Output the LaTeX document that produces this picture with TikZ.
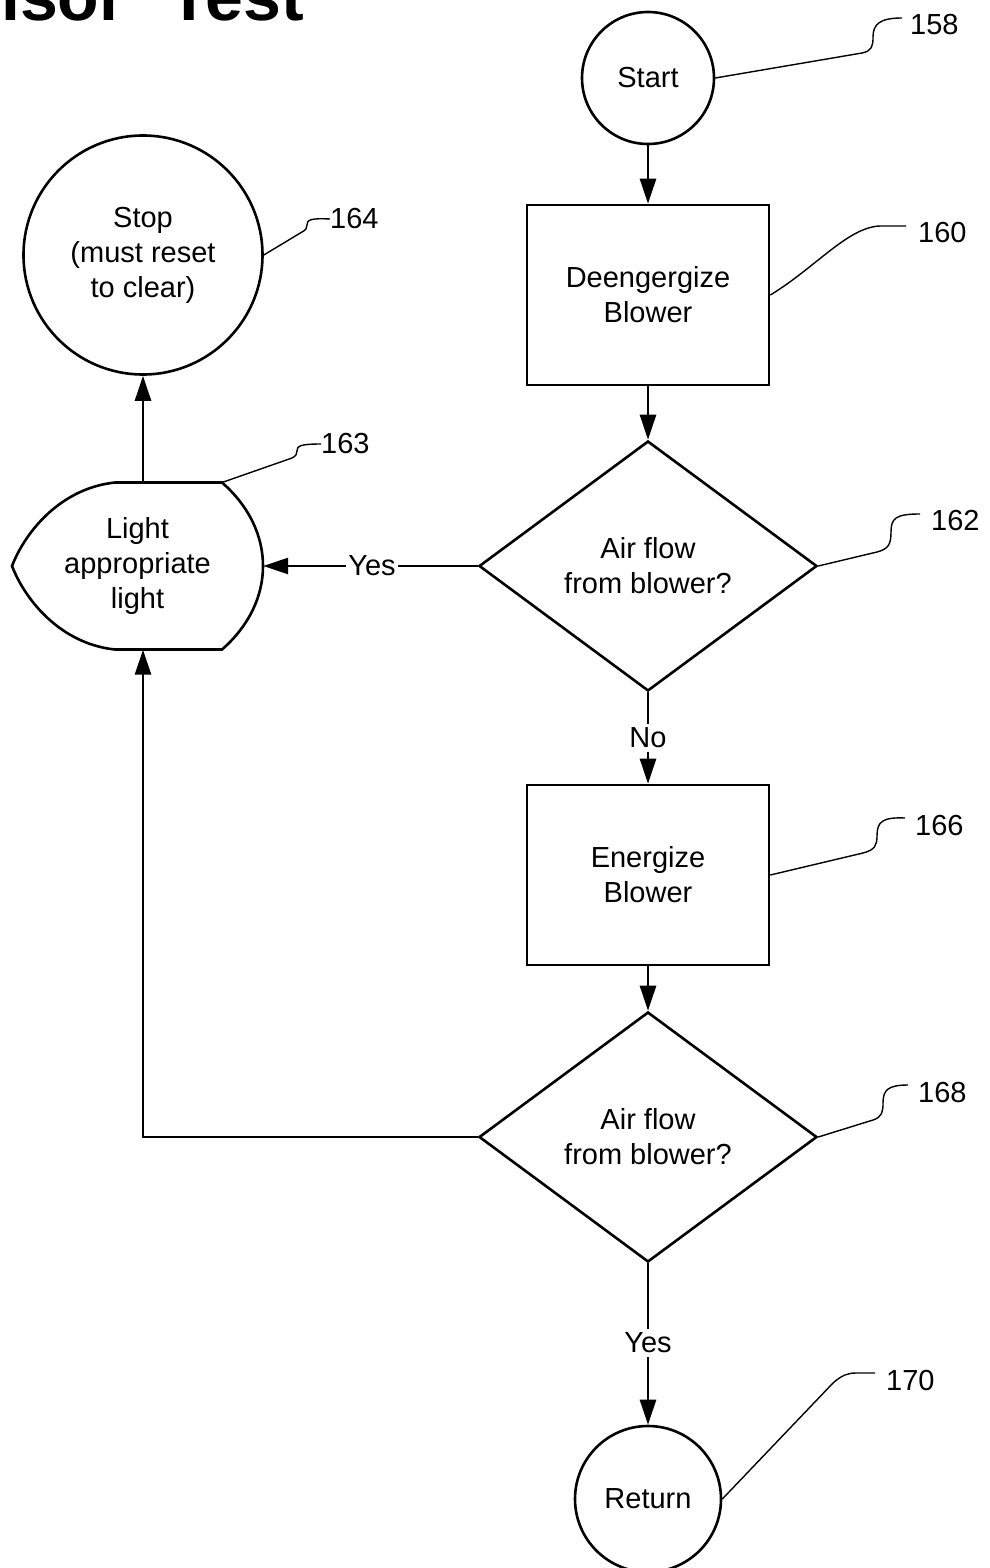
\documentclass[tikz,border=0pt]{standalone}
\usepackage{fontspec}
\setmainfont{Liberation Sans}
\usetikzlibrary{arrows.meta,shapes.geometric}
\newcommand{\titlefont}{\fontsize{68}{68}\selectfont\bfseries\spaceskip=43pt\relax}

\begin{document}
\begin{tikzpicture}[x=1pt,y=-1pt,
	every node/.style={font=\fontsize{29}{35}\selectfont,align=center},
	flow/.style={line width=2.6pt},
	arr/.style={flow,-{Triangle[length=25pt,width=16pt]}},
	lead/.style={line width=1.4pt},
	term/.style={circle,draw,line width=2.6pt,inner sep=0pt},
	proc/.style={rectangle,draw,line width=2.6pt,minimum width=242pt,minimum height=180pt},
	dec/.style={diamond,draw,line width=2.6pt,minimum width=338pt,minimum height=250pt,inner sep=0pt},
	num/.style={anchor=west,inner sep=0pt}]
				\useasboundingbox (0,0) rectangle (990,1568);
				\node[font=\titlefont,anchor=base west,inner sep=0pt] (title) at (1,21) {isor Test};
				% main column
				\node[term,minimum size=132pt] (start) at (648,78) {Start};
				\node[proc] (blow1) at (648,295) {Deengergize\\Blower};
				\node[dec] (flow1) at (648,566) {Air flow\\from blower?};
				\node (no) at (648,738) {No};
				\node[proc] (blow2) at (648,875) {Energize\\Blower};
				\node[dec] (flow2) at (648,1137) {Air flow\\from blower?};
				\node (yes2) at (648,1343) {Yes};
				\node[term,minimum size=146pt] (ret) at (648,1499) {Return};
				% left column
				\node[term,minimum size=239pt] (stop) at (143,255) {Stop\\(must reset\\to clear)};
				\node[minimum width=251pt,minimum height=167pt,inner sep=0pt] (light) at (137.5,566) {Light\\appropriate\\light};
				\draw[flow] (222,482.5) coordinate (lightne) -- (115,482.5)
					.. controls (62,488) and (26,530) .. (12,566)
					.. controls (26,602) and (62,644) .. (115,649.5) -- (222,649.5)
					.. controls (250,625) and (263,595) .. (263,566)
					.. controls (263,537) and (250,507) .. (222,482.5) -- cycle;
				\node[inner sep=2pt] (yes1) at (372,566) {Yes};
				% connectors
				\draw[arr] (start) -- (blow1);
				\draw[arr] (blow1) -- (flow1);
				\draw[flow] (flow1) -- (no);
				\draw[arr] (no) -- (blow2);
				\draw[arr] (blow2) -- (flow2);
				\draw[flow] (flow2) -- (yes2);
				\draw[arr] (yes2) -- (ret);
				\draw[flow] (flow1) -- (yes1);
				\draw[arr] (yes1) -- (light);
				\draw[arr] (flow2.west) -| (light.south -| stop.center);
				\draw[arr] (light.north -| stop.center) -- (stop);
				% reference numbers
				\node[num] (n158) at (910,25) {158};
				\node[num] (n160) at (918,233) {160};
				\node[num] (n162) at (931,521) {162};
				\node[num] (n163) at (321,444) {163};
				\node[num] (n164) at (330,219) {164};
				\node[num] (n166) at (915,826) {166};
				\node[num] (n168) at (918,1093) {168};
				\node[num] (n170) at (886,1380) {170};
				\draw[lead] (start.east) -- (862,53) .. controls (872,51) and (873,46) .. (873,37) .. controls (873,24) and (880,18) .. ([xshift=-8pt,yshift=7pt]n158.west);
				\draw[lead] (blow1.east) .. controls (815,268) and (848,227) .. (880,226) -- ([xshift=-12pt,yshift=7pt]n160.west);
				\draw[lead] (flow1.east) -- (877,552) .. controls (888,549) and (891,545) .. (891,532) .. controls (891,518) and (896,514) .. ([xshift=-11pt,yshift=7pt]n162.west);
				\draw[lead] (lightne) -- (292,458) .. controls (296,456) and (297,454) .. (297,451) .. controls (297,446) and (300,444) .. (n163.west);
				\draw[lead] (stop.east) -- (302,232) .. controls (306,230) and (307,228) .. (307,225) .. controls (307,220) and (310,218) .. (n164.west);
				\draw[lead] (blow2.east) -- (863,853) .. controls (875,850) and (877,845) .. (877,836) .. controls (877,822) and (882,817) .. ([xshift=-10pt,yshift=8pt]n166.west);
				\draw[lead] (flow2.east) -- (873,1120) .. controls (882,1117) and (883,1112) .. (883,1103) .. controls (883,1090) and (888,1085) .. ([xshift=-10pt,yshift=8pt]n168.west);
				\draw[lead] (ret.east) -- (833,1383) .. controls (842,1375) and (848,1373) .. (856,1373) -- ([xshift=-11pt,yshift=7pt]n170.west);
\end{tikzpicture}
\end{document}
